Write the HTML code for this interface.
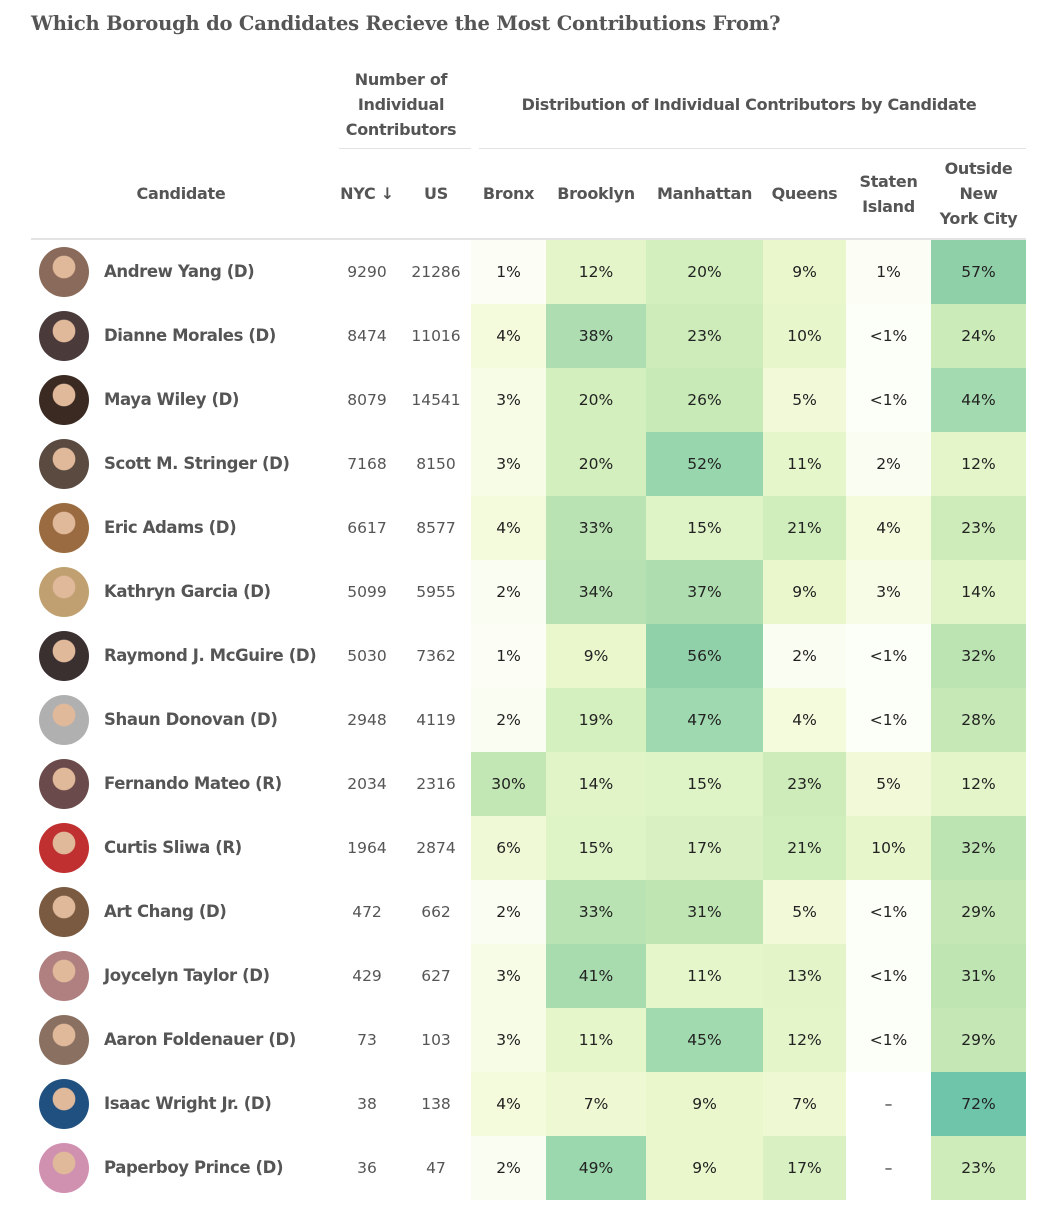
<!DOCTYPE html>
<html><head><meta charset="utf-8">
<style>
body{margin:0;background:#fff;width:1062px;height:1216px;overflow:hidden;font-family:"DejaVu Sans","Liberation Sans",sans-serif;}
#root{position:relative;width:1062px;height:1216px;}
.abs{position:absolute;}
.title{left:31px;top:12px;font-family:"DejaVu Serif","Liberation Serif",serif;font-weight:bold;font-size:19.5px;color:#555;letter-spacing:-0.2px;}
.hd{font-weight:bold;color:#555;font-size:16px;text-align:center;line-height:25px;letter-spacing:-0.3px;}
.cell{position:absolute;height:64px;line-height:64px;text-align:center;font-size:15.5px;color:#222;}
.num{color:#555;}
.name{position:absolute;height:64px;line-height:64px;font-weight:bold;font-size:16.5px;color:#555;left:104px;letter-spacing:-0.4px;}
.av{position:absolute;left:39px;width:50px;height:50px;border-radius:50%;}
</style></head><body>
<div id="root">
<div class="abs title">Which Borough do Candidates Recieve the Most Contributions From?</div>
<div class="abs hd" style="left:339px;width:124px;top:67px">Number of<br>Individual<br>Contributors</div>
<div class="abs" style="left:339px;width:132px;top:148px;height:1px;background:#e3e3e3"></div>
<div class="abs hd" style="left:479px;width:540px;top:92px">Distribution of Individual Contributors by Candidate</div>
<div class="abs" style="left:479px;width:547px;top:148px;height:1px;background:#e3e3e3"></div>
<div class="abs" style="left:31px;width:995px;top:238px;height:2px;background:#e3e3e3"></div>
<div id="hdrs"></div>
<div id="rows"></div>
</div>
<script>
const candidates=["Andrew Yang (D)","Dianne Morales (D)","Maya Wiley (D)","Scott M. Stringer (D)","Eric Adams (D)","Kathryn Garcia (D)","Raymond J. McGuire (D)","Shaun Donovan (D)","Fernando Mateo (R)","Curtis Sliwa (R)","Art Chang (D)","Joycelyn Taylor (D)","Aaron Foldenauer (D)","Isaac Wright Jr. (D)","Paperboy Prince (D)"];
const nycCounts=[9290,8474,8079,7168,6617,5099,5030,2948,2034,1964,472,429,73,38,36];
const usCounts=[21286,11016,14541,8150,8577,5955,7362,4119,2316,2874,662,627,103,138,47];
const bronx=[1,4,3,3,4,2,1,2,30,6,2,3,3,4,2];
const brooklyn=[12,38,20,20,33,34,9,19,14,15,33,41,11,7,49];
const manhattan=[20,23,26,52,15,37,56,47,15,17,31,11,45,9,9];
const queens=[9,10,5,11,21,9,2,4,23,21,5,13,12,7,17];
const staten=[1,0.5,0.5,2,4,3,0.5,0.5,5,10,0.5,0.5,0.5,null,null];
const outside=[57,24,44,12,23,14,32,28,12,32,29,31,29,72,23];
const boroughs=["Bronx","Brooklyn","Manhattan","Queens","Staten<br>Island","Outside<br>New<br>York City"];
const avatarColors=["#8a6a5a","#4a3a3a","#3a2a22","#5a4a40","#9a6a40","#c0a070","#3a3030","#b0b0b0","#6a4a4a","#c03030","#7a5a40","#b08080","#8a7060","#205080","#d090b0"];

const cols=[[471,546],[546,646],[646,763],[763,846],[846,931],[931,1026]];
const series=[bronx,brooklyn,manhattan,queens,staten,outside];
const stops=[[0,[253,254,250]],[2,[250,253,242]],[4,[244,250,220]],[9,[234,247,205]],[15,[222,243,198]],[21,[208,238,187]],[30,[194,230,180]],[37,[174,222,176]],[52,[152,214,174]],[57,[143,208,168]],[72,[111,197,170]],[100,[80,180,165]]];
function color(v){for(let i=1;i<stops.length;i++){if(v<=stops[i][0]){const a=stops[i-1],b=stops[i],t=(v-a[0])/(b[0]-a[0]);return 'rgb('+a[1].map((c,k)=>Math.round(c+(b[1][k]-c)*t)).join(',')+')';}}return 'rgb(80,180,165)';}
const rowY=i=>240+i*64;

const H=document.getElementById('hdrs');
function hd(txt,l,w,top,name){const d=document.createElement('div');d.className='abs hd';d.style.left=l+'px';d.style.width=w+'px';d.style.top=top+'px';d.innerHTML=txt;


H.appendChild(d);}
hd('Candidate',31,300,181,'candidate-column-header');
hd('NYC ↓',336,62,181,'nyc-column-header');
hd('US',403,66,181,'us-column-header');
boroughs.forEach((b,j)=>{const lines=b.split('<br>').length;hd(b,cols[j][0],cols[j][1]-cols[j][0],193.5-lines*12.5,'borough-header-'+j);});

const R=document.getElementById('rows');
candidates.forEach((c,i)=>{
  const y=rowY(i);
  const av=document.createElement('div');av.className='av';av.style.top=(y+7)+'px';
  av.style.background='radial-gradient(circle at 50% 40%, #e0b89a 0 28%, '+avatarColors[i]+' 30% 100%)';
  
  
  R.appendChild(av);
  const n=document.createElement('div');n.className='name';n.style.top=y+'px';n.textContent=c;
  
  
  R.appendChild(n);
  const a=document.createElement('div');a.className='cell num';a.style.left='336px';a.style.width='62px';a.style.top=y+'px';a.textContent=nycCounts[i];
  
  
  R.appendChild(a);
  const u=document.createElement('div');u.className='cell num';u.style.left='403px';u.style.width='66px';u.style.top=y+'px';u.textContent=usCounts[i];
  
  
  R.appendChild(u);
  series.forEach((s,j)=>{
    const v=s[i];const d=document.createElement('div');d.className='cell';
    d.style.left=cols[j][0]+'px';d.style.width=(cols[j][1]-cols[j][0])+'px';d.style.top=y+'px';
    d.style.background=v==null?'#fff':color(v);
    d.textContent=v==null?'–':(v<1?'<1%':v+'%');
    
    
    R.appendChild(d);
  });
});
</script>
</body></html>
